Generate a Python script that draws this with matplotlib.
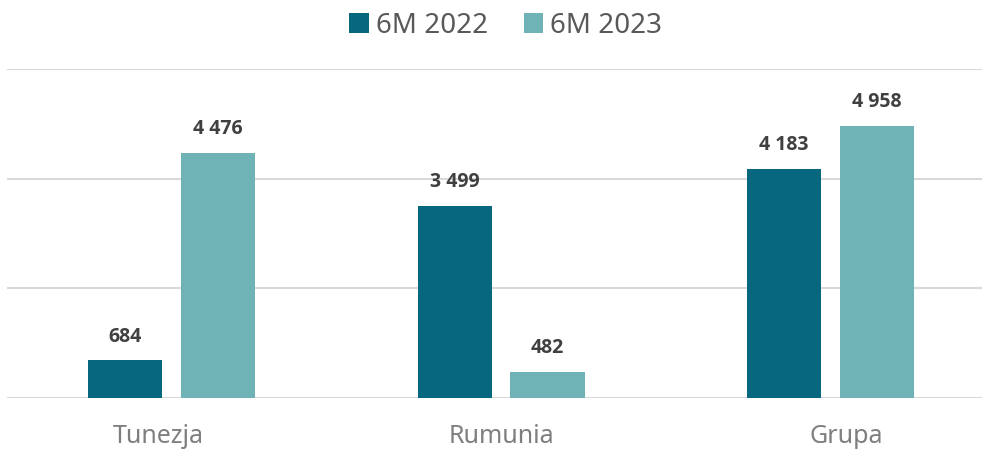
import matplotlib.pyplot as plt
import matplotlib.transforms as mtransforms
import numpy as np

# Data
categories = ['Tunezja', 'Rumunia', 'Grupa']
values_2022 = [684, 3499, 4183]
values_2023 = [4476, 482, 4958]
series_names = ['6M 2022', '6M 2023']
labels_2022 = ['684', '3 499', '4 183']
labels_2023 = ['4 476', '482', '4 958']

plt.rcParams['font.family'] = ['Noto Sans', 'DejaVu Sans']

dark_color = '#07677E'
light_color = '#6FB3B7'

fig = plt.figure(figsize=(9.84, 4.5), dpi=100)
ax = fig.add_axes([0.007, 0.1156, 0.991, 0.7311])

x = np.arange(len(categories))
bar_w = 0.225
offset = 0.141

bars_a = ax.bar(x - offset, values_2022, bar_w, color=dark_color, label=series_names[0], zorder=3)
bars_b = ax.bar(x + offset, values_2023, bar_w, color=light_color, label=series_names[1], zorder=3)

label_font = dict(fontsize=14, fontweight='bold', fontstretch='normal',
                  family=['Open Sans', 'DejaVu Sans'], color='#404040')
ax.bar_label(bars_a, labels=labels_2022, padding=10, **label_font)
ax.bar_label(bars_b, labels=labels_2023, padding=10, **label_font)

ax.set_ylim(0, 6000)
ax.set_xlim(-0.5, 2.46)
ax.set_yticks([0, 2000, 4000, 6000])
ax.set_yticklabels([])
ax.yaxis.grid(True, color='#D9D9D9', linewidth=1.5, zorder=0)
ax.tick_params(axis='y', length=0)

ax.set_xticks(x)
ax.set_xticklabels(categories, fontsize=18, color='#7F7F7F')
ax.tick_params(axis='x', length=0, pad=19)

# category labels sit slightly off the bar-pair centres in the original
shifts = [-13, 0, 16]
for lbl, dx in zip(ax.get_xticklabels(), shifts):
    lbl.set_transform(lbl.get_transform() + mtransforms.ScaledTranslation(dx / 100, 0, fig.dpi_scale_trans))

for spine in ax.spines.values():
    spine.set_visible(False)

fig.legend(loc='upper center', bbox_to_anchor=(0.514, 1.03), ncol=2, frameon=False,
           fontsize=20, labelcolor='#595959', handlelength=0.7, handleheight=0.7,
           handletextpad=0.25, columnspacing=1.3)

fig.savefig('out.png', dpi=100)
